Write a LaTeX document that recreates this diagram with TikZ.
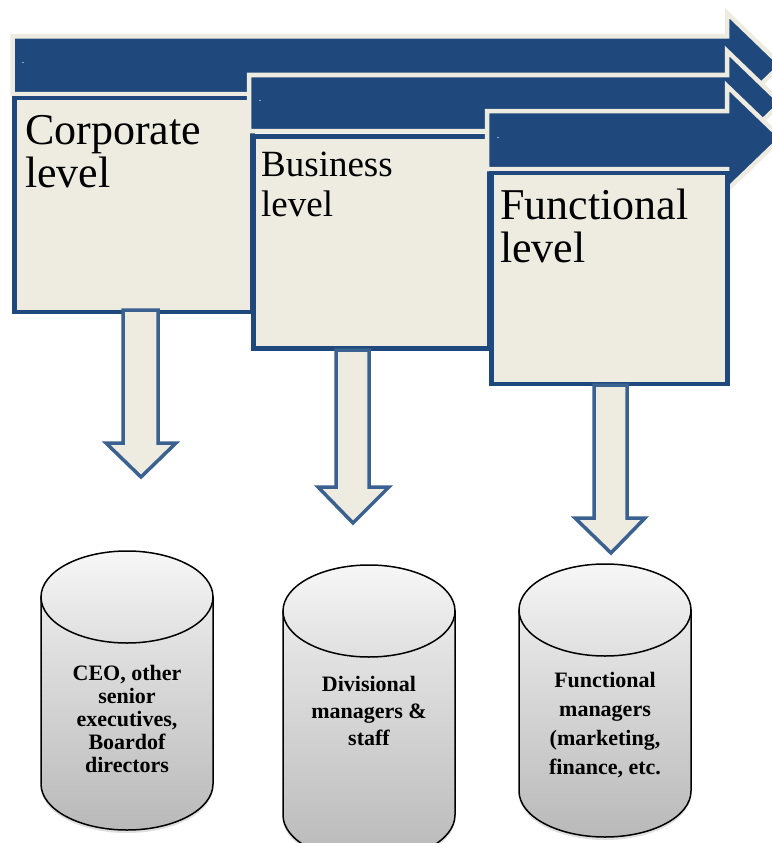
\documentclass[tikz,border=0pt]{standalone}
\usepackage{fontspec}
\setmainfont{Liberation Serif}
\usetikzlibrary{shadows}
\definecolor{navy}{HTML}{1F497D}
\definecolor{cream}{HTML}{EEECE1}
\definecolor{steel}{HTML}{3A6190}
\definecolor{drumtop}{HTML}{EAEAEA}
\definecolor{drumbot}{HTML}{B9B9B9}

\begin{document}
\begin{tikzpicture}[x=1pt,y=-1pt,
	bigarrow/.style={fill=navy, draw=cream, line width=4.5pt, line join=miter},
	levelbox/.style={draw=navy, fill=cream, line width=4.5pt, inner sep=0pt, anchor=north west},
	downarrow/.style={fill=cream, draw=steel, line width=3.5pt, line join=miter},
	drum/.style={draw=black, line width=1.5pt, top color=drumtop, bottom color=drumbot},
	lvltext/.style={anchor=north west, inner sep=0pt, align=left},
	drumtext/.style={align=center, inner sep=0pt, font=\bfseries},
	dot/.style={text=white, font=\fontsize{10}{10}\selectfont, inner sep=0pt}]
	\useasboundingbox (0,0) rectangle (771,843);

	% three levels: arrow first, then its box on top
	\draw[bigarrow] (12.5,36.5) -- (727,36.5) -- (727,13) -- (781,65) -- (727,117) -- (727,94) -- (12.5,94) -- cycle;
	\node[dot] (dota) at (23,63) {.};
	\node[levelbox, minimum width=238pt, minimum height=214pt] (corp) at (12,95.5) {};
	\node[lvltext, font=\fontsize{44}{43}\selectfont] (corptext) at (25,115) {Corporate\\level};

	\draw[bigarrow] (249,75) -- (727,75) -- (727,51) -- (781,103) -- (727,155) -- (727,131) -- (249,131) -- cycle;
	\node[dot] (dotb) at (260,101) {.};
	\node[levelbox, minimum width=236pt, minimum height=212pt] (bus) at (251,134) {};
	\node[lvltext, font=\fontsize{37}{40}\selectfont] (bustext) at (261,152) {Business\\level};

	\draw[bigarrow] (487,111) -- (727,111) -- (727,86) -- (781,138) -- (727,190) -- (727,169) -- (487,169) -- cycle;
	\node[dot] (dotc) at (498,138) {.};
	\node[levelbox, minimum width=236pt, minimum height=211pt] (func) at (489,170.5) {};
	\node[lvltext, font=\fontsize{44}{43}\selectfont] (functext) at (500,189) {Functional\\level};

	% block arrows pointing down
	\draw[downarrow] (123,310) -- (158,310) -- (158,443) -- (176,443) -- (141,477) -- (106,443) -- (123,443) -- cycle;
	\draw[downarrow] (336,350) -- (369,350) -- (369,487) -- (389,487) -- (353,523) -- (318,487) -- (336,487) -- cycle;
	\draw[downarrow] (594,385) -- (627,385) -- (627,518) -- (645,518) -- (611,553) -- (575,518) -- (594,518) -- cycle;

	% the drums
	\foreach \cx/\top/\bot in {127/597/784, 369/611/815, 605/610/791} {
		\draw[drum, drop shadow={shadow xshift=0pt, shadow yshift=-3pt, opacity=0.25}] (\cx-86,\top) -- (\cx-86,\bot) arc[start angle=180, end angle=0, x radius=86, y radius=46] -- (\cx+86,\top) -- cycle;
		\draw[drum, top color=drumtop!40!white, bottom color=drumtop!90!gray] (\cx,\top) ellipse[x radius=86, y radius=46];
	}
	\node[drumtext, font=\bfseries\fontsize{22}{23}\selectfont] (ceo) at (127,719) {CEO, other\\senior\\executives,\\Boardof\\directors};
	\node[drumtext, font=\bfseries\fontsize{22}{27}\selectfont] (divmgr) at (369,711) {Divisional\\managers \&\\staff};
	\node[drumtext, font=\bfseries\fontsize{22}{29}\selectfont] (funcmgr) at (605,725) {Functional\\managers\\(marketing,\\finance, etc.};
\end{tikzpicture}
\end{document}
